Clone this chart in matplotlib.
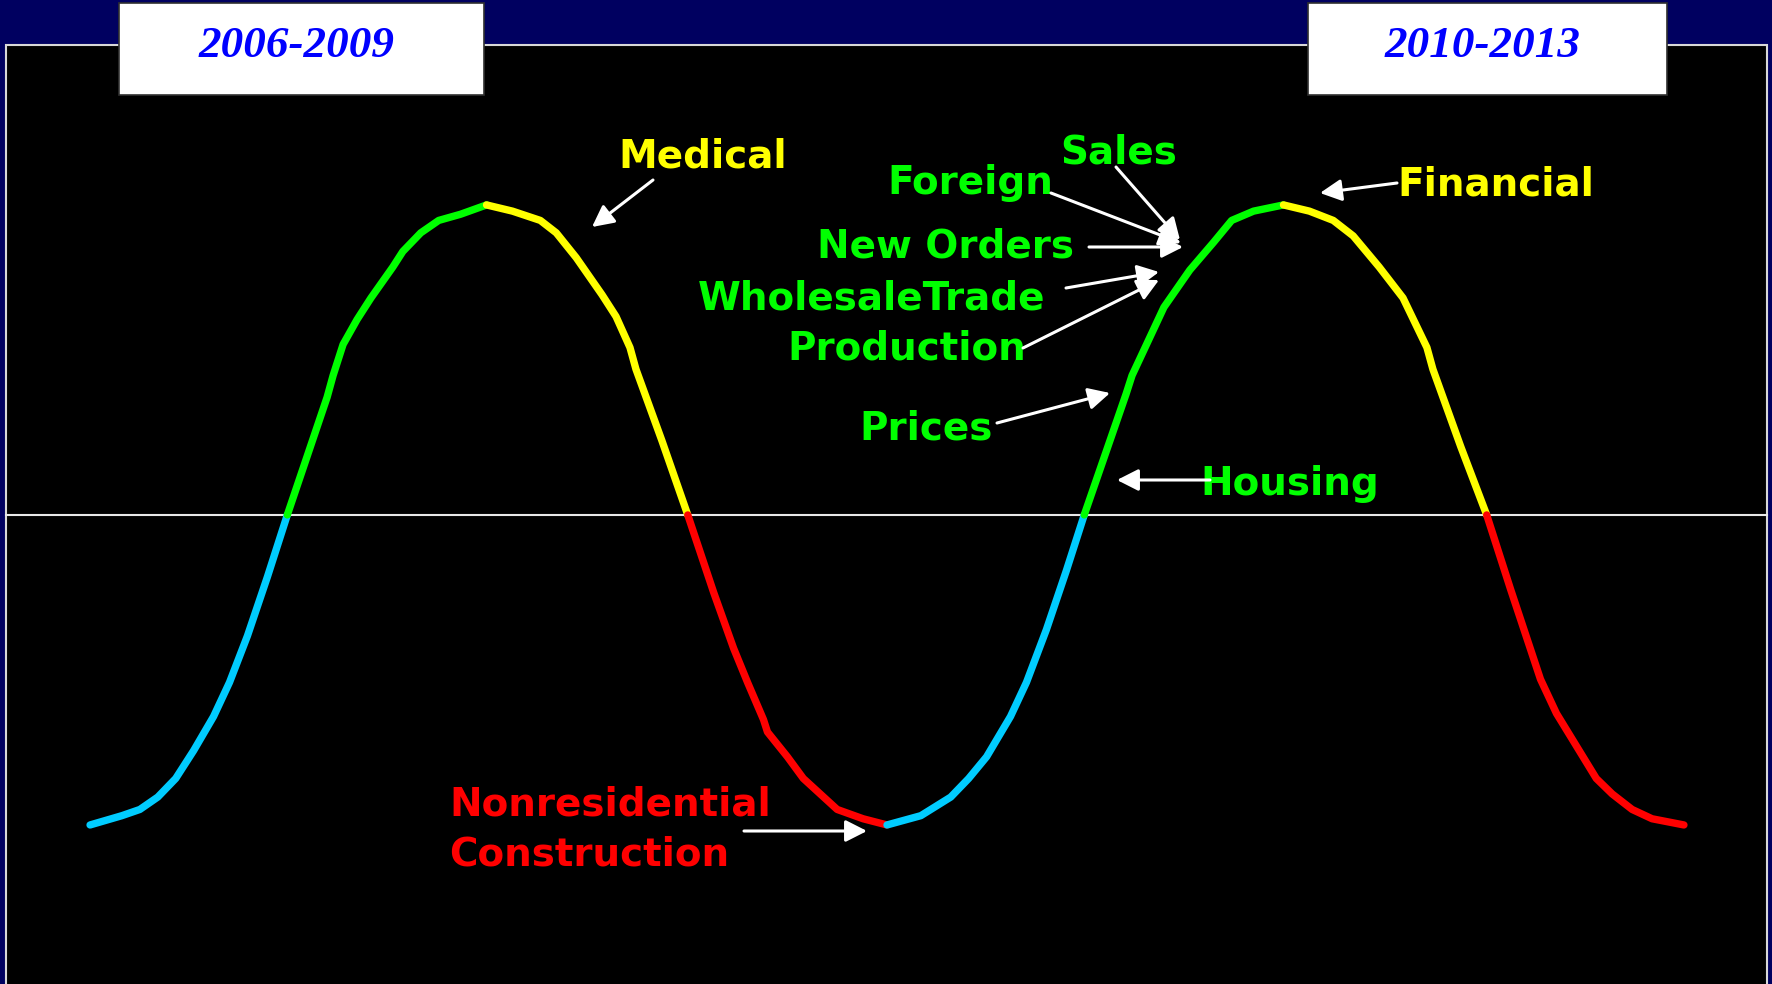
import matplotlib
matplotlib.use('Agg')
import matplotlib.pyplot as plt
from matplotlib.patches import Rectangle
from matplotlib.transforms import Affine2D

# business cycle curve (time in years, level: -1 trough .. +1 peak)
year = [2006.00, 2006.16, 2006.25, 2006.34, 2006.43, 2006.52, 2006.62, 2006.70, 2006.79, 2006.89,
        2006.99, 2007.19, 2007.22, 2007.27, 2007.34, 2007.41, 2007.52, 2007.57, 2007.66, 2007.75,
        2007.86, 2007.99, 2008.12, 2008.26, 2008.34, 2008.44, 2008.57, 2008.64, 2008.71, 2008.74,
        2008.87, 2009.00, 2009.13, 2009.23, 2009.30, 2009.38, 2009.40, 2009.50, 2009.58, 2009.75,
        2009.88, 2010.00, 2010.17, 2010.32, 2010.41, 2010.50, 2010.62, 2010.70, 2010.80, 2010.90,
        2010.99, 2011.20, 2011.23, 2011.31, 2011.39, 2011.52, 2011.64, 2011.73, 2011.84, 2011.99,
        2012.12, 2012.24, 2012.34, 2012.47, 2012.59, 2012.71, 2012.74, 2012.88, 2013.01, 2013.13,
        2013.28, 2013.36, 2013.56, 2013.64, 2013.74, 2013.84, 2014.00]
level = [-1.00, -0.97, -0.95, -0.91, -0.85, -0.76, -0.65, -0.54, -0.39, -0.20,
         0.00, 0.38, 0.45, 0.55, 0.63, 0.70, 0.80, 0.85, 0.91, 0.95,
         0.97, 1.00, 0.98, 0.95, 0.91, 0.83, 0.71, 0.64, 0.54, 0.47,
         0.24, 0.00, -0.25, -0.43, -0.54, -0.66, -0.70, -0.78, -0.85, -0.95,
         -0.98, -1.00, -0.97, -0.91, -0.85, -0.78, -0.65, -0.54, -0.37, -0.18,
         0.00, 0.39, 0.45, 0.56, 0.67, 0.79, 0.88, 0.95, 0.98, 1.00,
         0.98, 0.95, 0.90, 0.80, 0.70, 0.54, 0.47, 0.22, 0.00, -0.24,
         -0.53, -0.64, -0.85, -0.90, -0.95, -0.98, -1.00]

periods = ['2006-2009', '2010-2013']
phase_colors = {'recovery': '#00ccff', 'expansion': '#00ff00',
                'slowdown': '#ffff00', 'recession': '#ff0000'}

W, H = 1772, 984
fig = plt.figure(figsize=(W / 100, H / 100), dpi=100, facecolor='#000060')
ax = fig.add_axes([0, 0, 1, 1])
ax.patch.set_visible(False)
ax.axis('off')

# slide pixel coordinates for the decoration
px = Affine2D().scale(1 / W, -1 / H).translate(0, 1) + fig.transFigure

ax.add_patch(Rectangle((6, 45), 1761, 990, transform=px, facecolor='black',
                       edgecolor='#d8d8d8', lw=1.5, zorder=0))

ax.set_xlim(2005.548, 2014.442)
ax.set_ylim(-1.513, 1.661)

ax.axhline(0, xmin=6 / W, xmax=1767 / W, color='#e8e8e8', lw=1.5, zorder=1)

# colour each stretch of the curve by phase
def phase(i):
    mid = (level[i] + level[i + 1]) / 2
    if level[i + 1] > level[i]:
        return 'recovery' if mid < 0 else 'expansion'
    return 'slowdown' if mid > 0 else 'recession'

start = 0
for i in range(len(year) - 1):
    last = i == len(year) - 2
    if last or phase(i + 1) != phase(i):
        ax.plot(year[start:i + 2], level[start:i + 2], color=phase_colors[phase(i)],
                lw=5.3, solid_capstyle='round', solid_joinstyle='round', zorder=2)
        start = i + 1

# period boxes
for (x0, x1), text, tx in zip([(119, 484), (1308, 1667)], periods, [297, 1483]):
    ax.add_patch(Rectangle((x0, 3), x1 - x0, 92, transform=px, facecolor='white',
                           edgecolor='#303030', lw=1.2, zorder=3))
    ax.text(tx, 57, text, transform=px, ha='center', va='baseline',
            family='Liberation Serif', weight='bold', style='italic',
            fontsize=32.5, color='#0000ff', zorder=4)


def label(x, y, s, color):
    ax.text(x, y, s, transform=px, ha='left', va='baseline', family='DejaVu Sans',
            weight='bold', fontsize=28, color=color, zorder=4)


def arrow(tail, tip):
    ax.annotate('', xy=tip, xycoords=px, xytext=tail, textcoords=px,
                arrowprops=dict(arrowstyle='-|>,head_length=0.65,head_width=0.33',
                                color='white', lw=2.2, shrinkA=0, shrinkB=0,
                                mutation_scale=20), zorder=4)


green, yellow, red = '#00ff00', '#ffff00', '#ff0000'

label(618, 167, 'Medical', yellow)
arrow((653, 180), (592, 227))
label(1397, 195, 'Financial', yellow)
arrow((1397, 183), (1320, 193))

label(1060, 163, 'Sales', green)
arrow((1116, 167), (1180, 240))
label(887, 194, 'Foreign', green)
arrow((1051, 193), (1181, 243))
label(817, 258, 'New Orders', green)
arrow((1089, 247), (1183, 247))
label(698, 310, 'WholesaleTrade', green)
arrow((1066, 288), (1159, 272))
label(787, 359, 'Production', green)
arrow((1023, 348), (1159, 280))
label(859, 440, 'Prices', green)
arrow((997, 423), (1110, 393))
label(1200, 495, 'Housing', green)
arrow((1210, 480), (1117, 480))

label(449, 816, 'Nonresidential', red)
label(449, 866, 'Construction', red)
arrow((744, 831), (867, 831))

fig.savefig('out.png', dpi=100, facecolor=fig.get_facecolor())
